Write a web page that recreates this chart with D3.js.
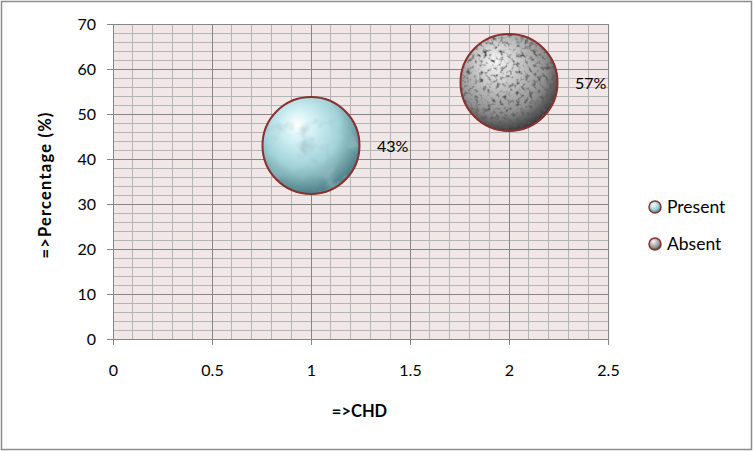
<!DOCTYPE html>
<html>
<head>
<meta charset="utf-8">
<script src="https://cdn.jsdelivr.net/npm/d3@7"></script>
<style>
  html, body { margin: 0; padding: 0; background: #fff; }
  svg text { font-family: Lato, "Open Sans", "Liberation Sans", sans-serif; }
</style>
</head>
<body>
<div id="chart"></div>
<script>
// data
const series = ['Present', 'Absent'];
const chdValues = [1, 2];
const percentValues = [43, 57];
const bubbleSizes = [1, 1];
const pointLabels = ['43%', '57%'];
const xTicks = [0, 0.5, 1, 1.5, 2, 2.5];
const yTicks = [0, 10, 20, 30, 40, 50, 60, 70];

const W = 753, H = 451;
const margin = { left: 113, top: 24, right: W - 608, bottom: H - 339 };

const svg = d3.select('#chart').append('svg')
  .attr('width', W).attr('height', H);

// outer chart border
svg.append('rect')
  .attr('x', 1.5).attr('y', 1.5)
  .attr('width', W - 3).attr('height', H - 3)
  .attr('fill', '#fff').attr('stroke', '#8c8c8c').attr('stroke-width', 1.5);

const x = d3.scaleLinear().domain([0, 2.5]).range([margin.left, W - margin.right]);
const y = d3.scaleLinear().domain([0, 70]).range([H - margin.bottom, margin.top]);
const r = d3.scaleSqrt().domain([0, 1]).range([0, 49]);

const defs = svg.append('defs');

// bubble fills
function radial(id, stops) {
  const g = defs.append('radialGradient').attr('id', id)
    .attr('cx', '42%').attr('cy', '36%').attr('r', '64%').attr('fx', '36%').attr('fy', '28%');
  stops.forEach(s => g.append('stop').attr('offset', s[0]).attr('stop-color', s[1]));
}
radial('gradPresent', [['0%', '#ffffff'], ['22%', '#d6f3f6'], ['62%', '#a0d2d8'], ['100%', '#4a7c83']]);
radial('gradAbsent', [['0%', '#f8f8f8'], ['35%', '#c8c8c8'], ['75%', '#8e8e8e'], ['100%', '#3c3c3c']]);

function texture(id, freq, oct, seed, rgb, a, b) {
  const f = defs.append('filter').attr('id', id)
    .attr('x', '-5%').attr('y', '-5%').attr('width', '110%').attr('height', '110%');
  f.append('feTurbulence').attr('type', 'fractalNoise').attr('baseFrequency', freq)
    .attr('numOctaves', oct).attr('seed', seed).attr('result', 'noise');
  f.append('feColorMatrix').attr('in', 'noise').attr('type', 'matrix')
    .attr('values', `0 0 0 0 ${rgb[0]}  0 0 0 0 ${rgb[1]}  0 0 0 0 ${rgb[2]}  ${a} 0 0 0 ${b}`)
    .attr('result', 'spots');
  f.append('feComposite').attr('in', 'spots').attr('in2', 'SourceGraphic')
    .attr('operator', 'in').attr('result', 'clipped');
  const m = f.append('feMerge');
  m.append('feMergeNode').attr('in', 'SourceGraphic');
  m.append('feMergeNode').attr('in', 'clipped');
}
texture('texPresent', 0.05, 3, 4, [0.3, 0.5, 0.55], 2.2, -1.1);
texture('texAbsent', 0.24, 2, 7, [0.1, 0.1, 0.1], 3.4, -1.65);

const fills = ['url(#gradPresent)', 'url(#gradAbsent)'];
const filters = ['url(#texPresent)', 'url(#texAbsent)'];

// plot area background
svg.append('rect')
  .attr('x', x(0)).attr('y', y(70))
  .attr('width', x(2.5) - x(0)).attr('height', y(0) - y(70))
  .attr('fill', '#f2e7e7');

// minor grid
const grid = svg.append('g');
grid.selectAll('line.vminor')
  .data(d3.range(1, 25).map(i => i / 10).filter(v => Math.round(v * 10) % 5 !== 0))
  .join('line')
  .attr('x1', d => x(d)).attr('x2', d => x(d))
  .attr('y1', y(0)).attr('y2', y(70))
  .attr('stroke', '#b4b4b4').attr('stroke-width', 1).attr('shape-rendering', 'crispEdges');
grid.selectAll('line.hminor')
  .data(d3.range(2, 70, 2).filter(v => v % 10 !== 0))
  .join('line')
  .attr('x1', x(0)).attr('x2', x(2.5))
  .attr('y1', d => y(d)).attr('y2', d => y(d))
  .attr('stroke', '#b4b4b4').attr('stroke-width', 1).attr('shape-rendering', 'crispEdges');

// major grid
grid.selectAll('line.vmajor')
  .data(xTicks.slice(1))
  .join('line')
  .attr('x1', d => x(d)).attr('x2', d => x(d))
  .attr('y1', y(0)).attr('y2', y(70))
  .attr('stroke', '#868686').attr('stroke-width', 1).attr('shape-rendering', 'crispEdges');
grid.selectAll('line.hmajor')
  .data(yTicks.slice(1))
  .join('line')
  .attr('x1', x(0)).attr('x2', x(2.5))
  .attr('y1', d => y(d)).attr('y2', d => y(d))
  .attr('stroke', '#868686').attr('stroke-width', 1).attr('shape-rendering', 'crispEdges');

// axes
const xAxis = svg.append('g')
  .attr('transform', `translate(0,${y(0)})`)
  .call(d3.axisBottom(x).tickValues(xTicks).tickSize(6).tickPadding(20).tickFormat(d3.format('')));
const yAxis = svg.append('g')
  .attr('transform', `translate(${x(0)},0)`)
  .call(d3.axisLeft(y).tickValues(yTicks).tickSize(6).tickPadding(11));
[xAxis, yAxis].forEach(a => {
  a.select('.domain').attr('stroke', '#868686').attr('shape-rendering', 'crispEdges');
  a.selectAll('.tick line').attr('stroke', '#868686').attr('shape-rendering', 'crispEdges');
  a.selectAll('.tick text').attr('fill', '#000').style('font-size', '16px');
});

// bubbles
const data = series.map((s, i) => ({ name: s, cx: chdValues[i], cy: percentValues[i], size: bubbleSizes[i], label: pointLabels[i], i }));
const bubbles = svg.append('g').selectAll('g').data(data).join('g');
bubbles.append('circle')
  .attr('cx', d => x(d.cx)).attr('cy', d => y(d.cy)).attr('r', d => r(d.size))
  .attr('fill', d => fills[d.i]).attr('filter', d => filters[d.i]);
bubbles.append('circle')
  .attr('cx', d => x(d.cx)).attr('cy', d => y(d.cy)).attr('r', d => r(d.size) - 0.5)
  .attr('fill', 'none').attr('stroke', '#8a3030').attr('stroke-width', 2);
bubbles.append('text')
  .attr('x', d => x(d.cx) + r(d.size) + 17).attr('y', d => y(d.cy) + 6)
  .style('font-size', '16px').attr('fill', '#000')
  .text(d => d.label);

// axis titles
svg.append('text')
  .attr('x', x(1.25) - 1).attr('y', 417)
  .attr('text-anchor', 'middle')
  .style('font-size', '16.5px').style('font-weight', 'bold')
  .text('=>CHD');
svg.append('text')
  .attr('transform', `translate(51,185) rotate(-90)`)
  .attr('text-anchor', 'middle')
  .style('font-size', '16.5px').style('font-weight', 'bold')
  .style('letter-spacing', '1.2px')
  .text('=>Percentage (%)');

// legend
const legend = svg.append('g').selectAll('g').data(data).join('g')
  .attr('transform', (d, i) => `translate(655,${207 + i * 37})`);
legend.append('circle').attr('r', 6)
  .attr('fill', d => fills[d.i]).attr('stroke', '#8a3030').attr('stroke-width', 1.5);
legend.append('text').attr('x', 12).attr('y', 6)
  .style('font-size', '17.5px').attr('fill', '#000')
  .text(d => d.name);
</script>
</body>
</html>
